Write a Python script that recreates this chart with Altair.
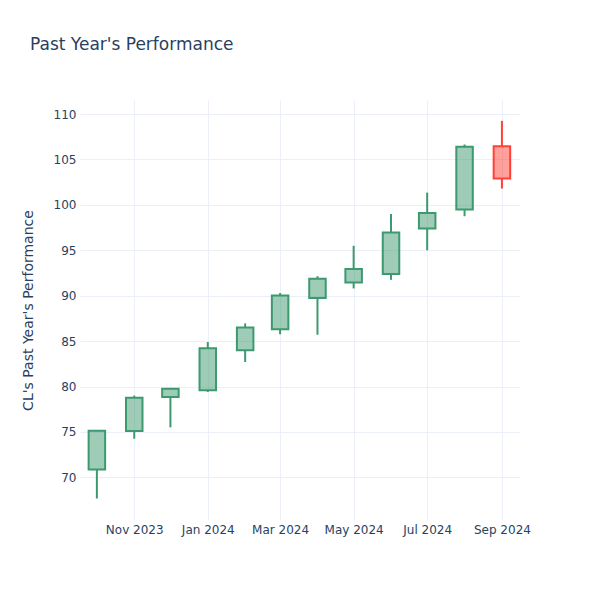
import altair as alt
import pandas as pd

dates = ["2023-10-01", "2023-11-01", "2023-12-01", "2024-01-01", "2024-02-01", "2024-03-01",
         "2024-04-01", "2024-05-01", "2024-06-01", "2024-07-01", "2024-08-01", "2024-09-01"]
opens = [70.87, 75.10, 78.85, 79.60, 84.00, 86.30, 89.75, 91.45, 92.40, 97.40, 99.50, 106.45]
highs = [75.20, 79.00, 79.80, 84.90, 86.95, 90.30, 92.15, 95.50, 99.00, 101.35, 106.65, 109.25]
lows = [67.67, 74.25, 75.50, 79.40, 82.70, 85.75, 85.70, 90.80, 91.75, 95.00, 98.75, 101.80]
closes = [75.12, 78.76, 79.75, 84.20, 86.50, 90.03, 91.87, 92.93, 96.97, 99.10, 106.40, 102.90]

y_ticks = [70, 75, 80, 85, 90, 95, 100, 105, 110]
x_tick_months = [(2023, 11), (2024, 1), (2024, 3), (2024, 5), (2024, 7), (2024, 9)]

df = pd.DataFrame({"date": dates, "open": opens, "high": highs, "low": lows, "close": closes})

INC = "#3D9970"
DEC = "#FF4136"
FONT = "DejaVu Sans"
TXT = "#2a3f5f"
GRID = "#EBF0F8"

x_scale = alt.Scale(
    type="utc",
    nice=False,
    padding=0,
    domain=[alt.DateTime(year=2023, month=9, date=17, utc=True),
            alt.DateTime(year=2024, month=9, date=16, utc=True)],
)
y_scale = alt.Scale(domain=[65.3, 111.55], nice=False, zero=False, padding=0)

x_axis = alt.Axis(
    title=None,
    values=[alt.DateTime(year=y, month=m, date=1, utc=True) for y, m in x_tick_months],
    labelExpr="utcFormat(datum.value, '%b %Y')",
    labelFont=FONT, labelFontSize=12, labelColor=TXT, labelPadding=4,
    grid=True, gridColor=GRID, gridWidth=1, domain=False, ticks=False, labelFlush=False,
)
y_axis = alt.Axis(
    title="CL's Past Year's Performance",
    values=y_ticks,
    labelFont=FONT, labelFontSize=12, labelColor=TXT, labelPadding=4,
    titleFont=FONT, titleFontSize=14, titleColor=TXT, titleFontWeight="normal",
    titleX=-52, titleY=210, titleAngle=-90, titleAlign="center", titleBaseline="middle",
    grid=True, gridColor=GRID, gridWidth=1, domain=False, ticks=False,
)

color = alt.condition("datum.close >= datum.open", alt.value(INC), alt.value(DEC))

base = alt.Chart(df).transform_calculate(
    body_lo="min(datum.open, datum.close)",
    body_hi="max(datum.open, datum.close)",
)

wick_low = base.mark_rule(strokeWidth=2).encode(
    x=alt.X("date:T", scale=x_scale, axis=x_axis),
    y=alt.Y("low:Q", scale=y_scale, axis=y_axis),
    y2="body_lo:Q",
    color=color,
)
wick_high = base.mark_rule(strokeWidth=2).encode(
    x=alt.X("date:T", scale=x_scale, axis=x_axis),
    y=alt.Y("body_hi:Q", scale=y_scale, axis=y_axis),
    y2="high:Q",
    color=color,
)
body = base.mark_bar(size=16.5, strokeWidth=2, fillOpacity=0.5).encode(
    x=alt.X("date:T", scale=x_scale, axis=x_axis),
    y=alt.Y("open:Q", scale=y_scale, axis=y_axis),
    y2="close:Q",
    fill=color,
    stroke=color,
)

chart = alt.layer(wick_low, wick_high, body).properties(
    width=440,
    height=420,
    background="white",
    title=alt.TitleParams(
        "Past Year's Performance", anchor="start", frame="group",
        font=FONT, fontSize=17, color=TXT, fontWeight="normal",
        dx=-50, offset=46,
    ),
    autosize=alt.AutoSizeParams(type="none"),
    padding={"left": 72, "top": 92, "right": 72, "bottom": 72},
).configure_view(
    strokeWidth=0, stroke="transparent"
).configure_axis(
    domain=False
)

chart.save("out.html", embed_options={"renderer": "svg", "actions": False})
